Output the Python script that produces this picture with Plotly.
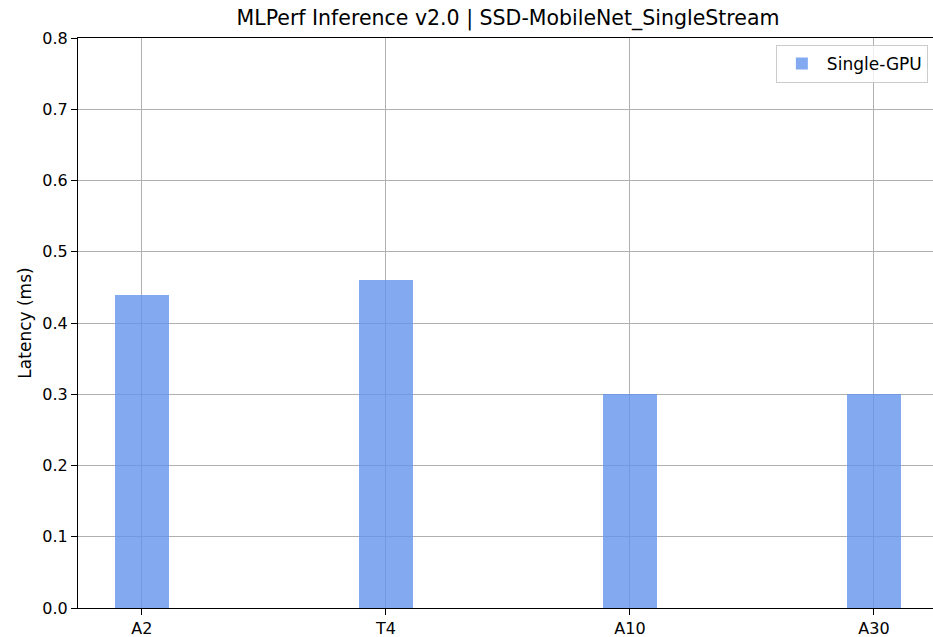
import plotly.graph_objects as go

categories = ["A2", "T4", "A10", "A30"]
latency = [0.44, 0.46, 0.30, 0.30]
series_name = "Single-GPU"
y_ticks = [0.0, 0.1, 0.2, 0.3, 0.4, 0.5, 0.6, 0.7, 0.8]

fig = go.Figure()
fig.add_trace(go.Bar(
    x=list(range(len(categories))), y=latency, name=series_name,
    width=0.22, marker=dict(color="rgba(100,149,237,0.8)", line=dict(width=0)),
    showlegend=True,
))

font = "DejaVu Sans, Liberation Sans, sans-serif"
fig.update_layout(
    width=933, height=637,
    margin=dict(l=78, r=0, t=38, b=29),
    paper_bgcolor="white", plot_bgcolor="white",
    font=dict(family=font, size=16, color="black"),
    title=dict(text="MLPerf Inference v2.0 | SSD-MobileNet_SingleStream",
               x=508 / 933, xanchor="center", y=1 - 18 / 637, yanchor="middle",
               font=dict(size=20.5, family=font, color="black")),
    showlegend=True,
    legend=dict(x=0.994, xanchor="right", y=0.988, yanchor="top",
                bordercolor="#cccccc", borderwidth=1, bgcolor="rgba(255,255,255,0.8)",
                font=dict(size=17, family=font), itemwidth=40),
    bargap=0,
)
fig.update_xaxes(
    range=[-0.262, 3.242], tickmode="array", tickvals=list(range(len(categories))),
    ticktext=categories, showgrid=True, gridcolor="#b0b0b0", gridwidth=1,
    showline=True, linecolor="black", linewidth=1, mirror=True,
    ticks="outside", ticklen=6, tickcolor="black", zeroline=False,
    layer="above traces", automargin=False,
)
fig.update_yaxes(
    range=[0, 0.8], tickmode="array", tickvals=y_ticks,
    ticktext=[f"{v:.1f}" for v in y_ticks],
    showgrid=True, gridcolor="#b0b0b0", gridwidth=1,
    showline=True, linecolor="black", linewidth=1,
    ticks="outside", ticklen=6, tickcolor="black", zeroline=False,
    title=dict(text="Latency (ms)", standoff=6, font=dict(size=17, family=font)),
    layer="above traces", automargin=False,
)

fig.write_html("out.html", config={"displayModeBar": False},
               post_script="document.body.style.margin='0';document.body.style.overflow='hidden';")
